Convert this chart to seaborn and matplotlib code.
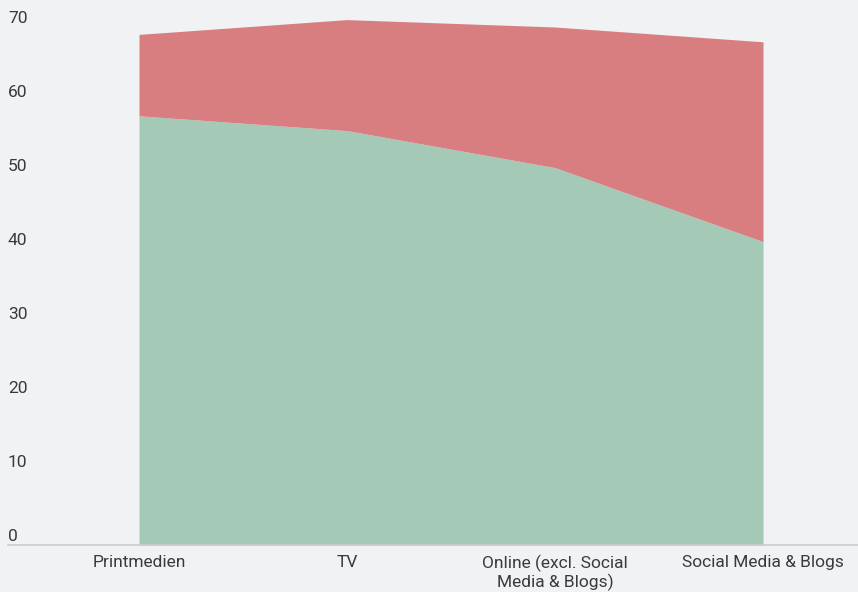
import matplotlib
matplotlib.use("Agg")
import matplotlib.pyplot as plt
from matplotlib.transforms import ScaledTranslation
import seaborn as sns

# ---------------- data ----------------
categories = ["Printmedien", "TV", "Online (excl. Social\nMedia & Blogs)", "Social Media & Blogs"]
green_vals = [58, 56, 51, 41]
red_vals = [11, 15, 19, 27]
y_ticks = [0, 10, 20, 30, 40, 50, 60, 70]

# ---------------- style ----------------
bg = "#f1f2f4"
sns.set_theme(style="white")
plt.rcParams["font.family"] = ["Roboto", "DejaVu Sans"]

fig = plt.figure(figsize=(8.58, 5.92), dpi=100, facecolor=bg)
ax = fig.add_axes([8 / 858, 1 - 545 / 592, 850 / 858, 545 / 592])
ax.set_facecolor(bg)

x = list(range(len(categories)))
ax.stackplot(x, green_vals, red_vals, colors=["#a5c9b7", "#d97e80"], linewidth=0)

ax.set_xlim((8 - 139) / 208, (858 - 139) / 208)
ax.set_ylim(0, 545 / 7.4)

ax.set_xticks(x)
ax.set_xticklabels(categories, fontsize=12.5, color="#3a3a3a", linespacing=1.1)
ax.tick_params(axis="x", length=0, pad=7)

ax.set_yticks(y_ticks)
ax.set_yticklabels([str(v) for v in y_ticks], fontsize=12.5, color="#3a3a3a")
ax.tick_params(axis="y", length=0, pad=0)
offset = ScaledTranslation(0, 10 / 100, fig.dpi_scale_trans)
for lab in ax.get_yticklabels():
    lab.set_horizontalalignment("left")
    lab.set_transform(lab.get_transform() + offset)
    lab.set_x(0)

for side in ["top", "right", "left"]:
    ax.spines[side].set_visible(False)
ax.spines["bottom"].set_color("#cccccc")
ax.spines["bottom"].set_linewidth(1.2)
ax.grid(False)

fig.savefig("out.png", dpi=100, facecolor=bg)
